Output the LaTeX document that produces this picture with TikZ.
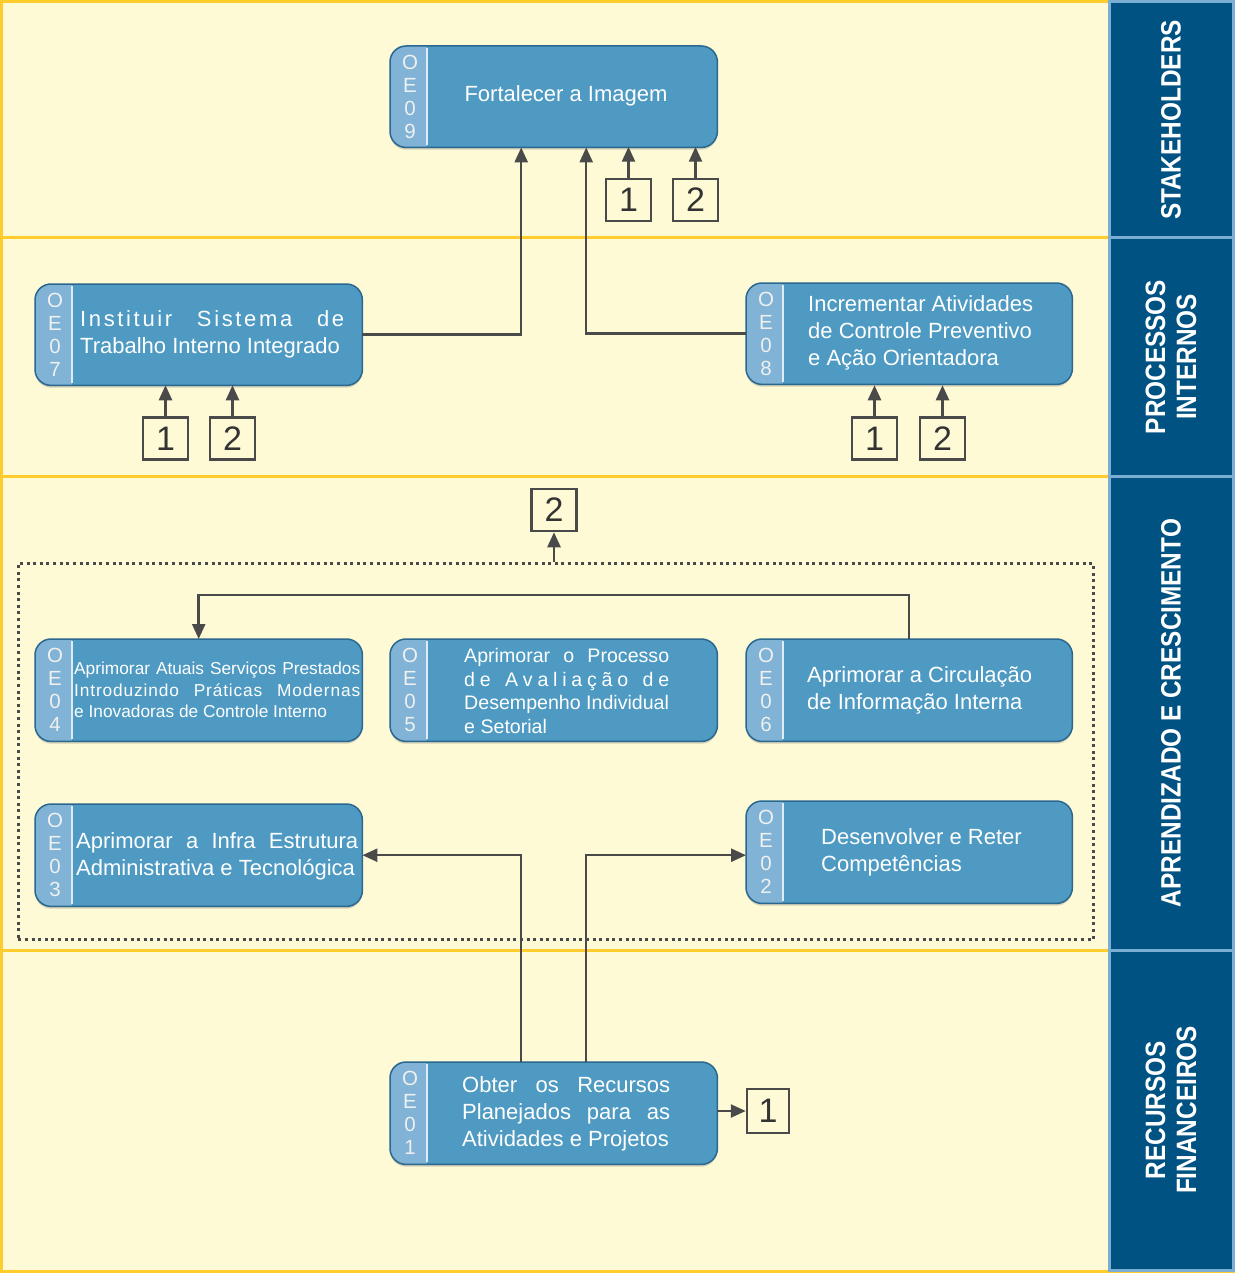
\documentclass[tikz,border=0pt]{standalone}
\usepackage{fontspec}
\setmainfont{Liberation Sans}
\newfontfamily\sidefont[FakeStretch=0.87]{Liberation Sans}
\usetikzlibrary{arrows.meta,shadows}
\definecolor{laneyellow}{HTML}{FFFAD6}
\definecolor{gold}{HTML}{FFCC2E}
\definecolor{colblue}{HTML}{005282}
\definecolor{colborder}{HTML}{7AAED3}
\definecolor{boxfill}{HTML}{4E9AC2}
\definecolor{boxedge}{HTML}{2A6890}
\definecolor{stripcol}{HTML}{80B3D5}
\definecolor{lineg}{HTML}{4A4A4A}
\newcommand\oebox[6]{%
  \node[objbox, minimum width={#4-#2}, minimum height={#5-#3}, anchor=north west] (#1) at (#2,#3) {};
  \begin{scope}
    \clip[rounded corners=16pt] (#1.north west) rectangle (#1.south east);
    \fill[stripcol] (#1.north west) rectangle ([xshift=37pt]#1.south west);
  \end{scope}
  \draw[white!75!stripcol, line width=1.6pt] ([xshift=37pt,yshift=-2pt]#1.north west) -- ([xshift=37pt,yshift=2pt]#1.south west);
  \draw[boxedge, line width=1.5pt, rounded corners=16pt] (#1.north west) rectangle (#1.south east);
  \node[oelbl] (#1-id) at ([xshift=20pt]#1.west) {O\\E\\0\\#6};
}
\begin{document}
\begin{tikzpicture}[x=1pt,y=-1pt,
  objbox/.style={fill=boxfill, draw=none, inner sep=0pt, rounded corners=16pt,
    drop shadow={opacity=0.35, shadow xshift=0pt, shadow yshift=-2.5pt}},
  oelbl/.style={text=white!94!black, align=center, inner sep=0pt, font=\fontsize{20.5}{23}\selectfont},
  txt/.style={text=white, inner sep=0pt, align=left, font=\fontsize{22}{27}\selectfont},
  numbox/.style={draw=lineg, line width=2.5pt, fill=laneyellow, minimum width=45pt, minimum height=42pt,
    inner sep=0pt, text=black!80, font=\fontsize{34}{34}\selectfont},
  conn/.style={draw=lineg, line width=2.5pt},
  arr/.style={conn, -{Triangle[length=15pt,width=13pt]}},
  sidelbl/.style={text=white, rotate=90, align=center, inner sep=0pt,
    font=\sidefont\bfseries\fontsize{28}{31}\selectfont},
  dotframe/.style={draw=lineg, line width=2.6pt, dash pattern=on 3pt off 3.6pt}
]
\useasboundingbox (0,0) rectangle (1235,1273);
% lanes
\fill[laneyellow] (0,0) rectangle (1108,1273);
\draw[gold, line width=3pt] (1.5,0) -- (1.5,1273);
\draw[gold, line width=3pt] (0,1.5) -- (1108,1.5);
\foreach \yy in {238,476,950} \draw[gold, line width=3pt] (0,\yy) -- (1108,\yy);
\draw[gold, line width=3pt] (0,1271.5) -- (1235,1271.5);
\foreach \ya/\yb in {1.5/238,238/476,476/950,950/1270}
  \draw[fill=colblue, draw=colborder, line width=3pt] (1109.5,\ya) rectangle (1233.5,\yb);
% side labels
\node[sidelbl] (lbl1) at (1171,120) {STAKEHOLDERS};
\node[sidelbl] (lbl2) at (1171,357) {PROCESSOS\\INTERNOS};
\node[sidelbl] (lbl3) at (1171,713) {APRENDIZADO E CRESCIMENTO};
\node[sidelbl] (lbl4) at (1171,1110) {RECURSOS\\FINANCEIROS};
% dotted group
\node[dotframe, minimum width=1075pt, minimum height=376pt, anchor=north west, inner sep=0pt] (grp) at (17,562) {};
% objective boxes
\oebox{oe09}{390}{46}{717}{147}{9}
\oebox{oe07}{35}{284}{362}{385}{7}
\oebox{oe08}{746}{283}{1072}{384}{8}
\oebox{oe04}{35}{639}{362}{741}{4}
\oebox{oe05}{390}{639}{717}{741}{5}
\oebox{oe06}{746}{639}{1072}{741}{6}
\oebox{oe03}{35}{804}{362}{906}{3}
\oebox{oe02}{746}{801}{1072}{903}{2}
\oebox{oe01}{390}{1062}{717}{1164}{1}
% texts
\node[txt] (t09) at (566,96) {Fortalecer a Imagem};
\node[txt, anchor=west] (t07) at (80,334) {\hbox to 264pt{\addfontfeature{LetterSpace=12}Instituir\hfill Sistema\hfill de}\\Trabalho Interno Integrado};
\node[txt, anchor=west] (t08) at (808,333) {Incrementar Atividades\\de Controle Preventivo\\e Ação Orientadora};
\node[txt, anchor=west, font=\fontsize{17.3}{21.5}\selectfont] (t04) at (74,690)
  {\hbox to 286pt{Aprimorar\hfill Atuais\hfill Serviços\hfill Prestados}\\\hbox to 286pt{\addfontfeature{LetterSpace=5}Introduzindo\hfill Práticas\hfill Modernas}\\e Inovadoras de Controle Interno};
\node[txt, anchor=west, font=\fontsize{19.6}{23.5}\selectfont] (t05) at (464,691)
  {\hbox to 205pt{Aprimorar\hfill o\hfill Processo}\\\hbox to 205pt{d\hfill e\hfill\hfill\hfill A\hfill v\hfill a\hfill l\hfill i\hfill a\hfill ç\hfill ã\hfill o\hfill\hfill\hfill d\hfill e}\\Desempenho Individual\\e Setorial};
\node[txt, anchor=west] (t06) at (807,690) {Aprimorar a Circulação\\de Informação Interna};
\node[txt, anchor=west] (t03) at (76,856) {\hbox to 282pt{Aprimorar\hfill a\hfill Infra\hfill Estrutura}\\Administrativa e Tecnológica};
\node[txt, anchor=west] (t02) at (821,852) {Desenvolver e Reter\\Competências};
\node[txt, anchor=west] (t01) at (462,1114) {\hbox to 208pt{Obter\hfill os\hfill Recursos}\\\hbox to 208pt{Planejados\hfill para\hfill as}\\Atividades e Projetos};
% number boxes
\node[numbox] (n9a) at (628.5,200) {1};
\node[numbox] (n9b) at (695.5,200) {2};
\node[numbox] (n7a) at (165.5,438.5) {1};
\node[numbox] (n7b) at (232.5,438.5) {2};
\node[numbox] (n8a) at (874.5,438.5) {1};
\node[numbox] (n8b) at (942.5,438.5) {2};
\node[numbox] (n2top) at (554,510) {2};
\node[numbox, minimum width=42pt, minimum height=44pt] (n1r) at (768,1111) {1};
% connectors
\draw[arr] (oe07.east) -| ([xshift=-32.5pt]oe09.south);
\draw[arr] (oe08.west) -| ([xshift=32.5pt]oe09.south);
\foreach \n in {n9a,n9b,n7a,n7b,n8a,n8b}{
  \draw[arr] (\n.north) -- ++(0,-31);
}
\draw[arr] (grp.north -| n2top.south) -- (n2top.south);
\draw[arr] (oe06.north) -- ++(0,-44) -| (oe04.north);
\draw[arr] ([xshift=-32.5pt]oe01.north) |- (oe03.east);
\draw[arr] ([xshift=32.5pt]oe01.north) |- (oe03.east -| oe02.west);
\draw[arr] (n1r.west -| oe01.east) -- (n1r.west);
\end{tikzpicture}
\end{document}
